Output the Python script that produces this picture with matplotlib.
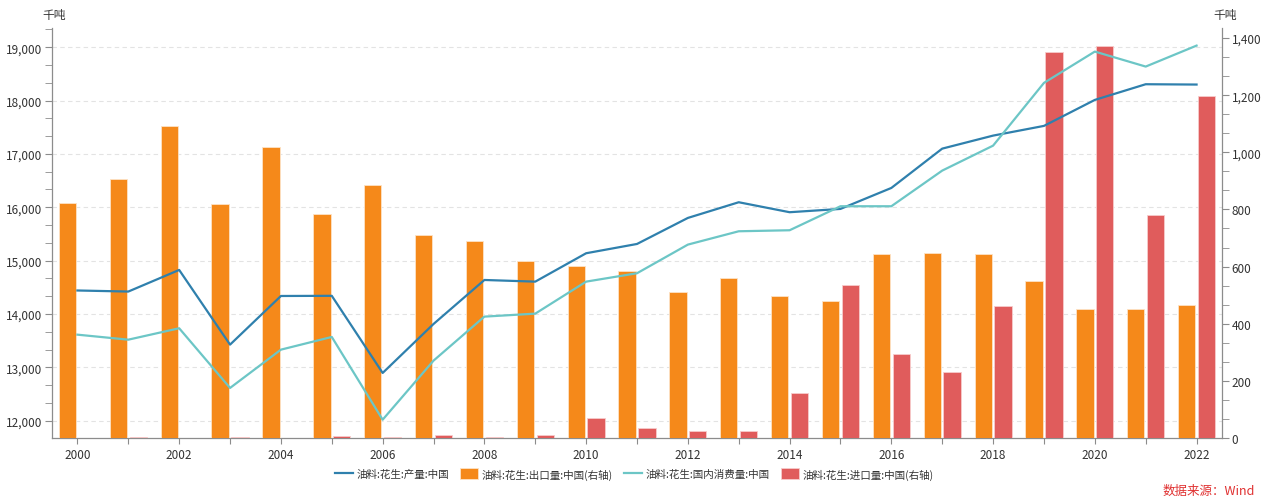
import matplotlib
matplotlib.use("Agg")
import matplotlib.pyplot as plt
from matplotlib.ticker import MultipleLocator, FuncFormatter, FixedLocator
import numpy as np

plt.rcParams['font.family'] = ['Noto Sans CJK SC', 'DejaVu Sans']

years = list(range(2000, 2023))
production = [14440, 14420, 14825, 13425, 14337, 14340, 12894, 13812, 14637, 14606,
              15138, 15312, 15800, 16094, 15907, 15969, 16362, 17099, 17343, 17525,
              18012, 18306, 18300]
consumption = [13612, 13518, 13732, 12613, 13331, 13569, 12018, 13125, 13950, 14006,
               14606, 14763, 15300, 15550, 15569, 16019, 16019, 16687, 17155, 18331,
               18918, 18637, 19030]
exports = [822, 906, 1093, 820, 1020, 783, 884, 711, 688, 619,
           601, 586, 512, 561, 498, 481, 643, 648, 643, 551,
           453, 452, 467]
imports = [1, 3, 1, 2, 1, 6, 5, 12, 3, 12,
           69, 35, 25, 25, 159, 537, 293, 231, 463, 1351,
           1371, 782, 1198]

names = ['油料:花生:产量:中国', '油料:花生:出口量:中国(右轴)',
         '油料:花生:国内消费量:中国', '油料:花生:进口量:中国(右轴)']
c_prod = '#2f80ad'
c_cons = '#6cc6c6'
c_exp = '#f5891a'
c_imp = '#e05c5c'
tick_col = '#333333'
spine_col = '#8c8c8c'

fig = plt.figure(figsize=(12.68, 5.02), dpi=100)
rect = [52/1268, 1-439/502, (1222-52)/1268, (439-29)/502]
ax = fig.add_axes(rect)
axr = ax.twinx()
axl = ax.twinx()

x = np.arange(len(years))
bw = 0.34
axr.bar(x - 0.195, exports, width=bw, color=c_exp, edgecolor='#fde3c6', linewidth=0.6, label=names[1])
axr.bar(x + 0.195, imports, width=bw, color=c_imp, edgecolor='#f7cccc', linewidth=0.6, label=names[3])
axl.plot(x, production, color=c_prod, lw=1.6, label=names[0])
axl.plot(x, consumption, color=c_cons, lw=1.6, label=names[2])

ylim_l = (11675, 19360)
ax.set_ylim(*ylim_l)
axl.set_ylim(*ylim_l)
axr.set_ylim(0, 1435)
ax.set_xlim(-0.5, len(years) - 0.5)

# left axis
ax.yaxis.set_major_locator(MultipleLocator(1000))
ax.yaxis.set_minor_locator(MultipleLocator(1000/3))
ax.yaxis.set_major_formatter(FuncFormatter(lambda v, p: f'{int(v):,}'))
ax.grid(axis='y', which='major', color='#e3e3e3', linestyle=(0, (4, 3)), linewidth=0.8)
ax.set_axisbelow(True)
ax.tick_params(axis='y', which='major', length=5, color=spine_col, labelsize=8.5, labelcolor=tick_col, pad=2)
ax.tick_params(axis='y', which='minor', length=5, color=spine_col)

# right axis
axr.yaxis.set_major_locator(MultipleLocator(200))
axr.yaxis.set_minor_locator(MultipleLocator(200/3))
axr.yaxis.set_major_formatter(FuncFormatter(lambda v, p: f'{int(v):,}'))
axr.tick_params(axis='y', which='major', length=5, color=spine_col, labelsize=8.5, labelcolor=tick_col, pad=2)
axr.tick_params(axis='y', which='minor', length=5, color=spine_col)

# x axis
ax.xaxis.set_major_locator(FixedLocator(x))
ax.set_xticklabels([str(y) if y % 2 == 0 else '' for y in years])
ax.tick_params(axis='x', length=4, color=spine_col, labelsize=8.5, labelcolor=tick_col, pad=3)

# hidden axes for lines
axl.set_yticks([])
axl.axis('off')

for a in (ax, axr):
    a.spines['top'].set_visible(False)
    for s in ('left', 'right', 'bottom'):
        a.spines[s].set_color(spine_col)
        a.spines[s].set_linewidth(0.9)
ax.spines['right'].set_visible(False)
axr.spines['left'].set_visible(False)
axr.spines['bottom'].set_visible(False)
axr.set_zorder(ax.get_zorder() + 1)
axl.set_zorder(axr.get_zorder() + 1)
axr.patch.set_visible(False)
axl.patch.set_visible(False)

fig.text(42/1268, 1-15/502, '千吨', fontsize=8.5, color=tick_col, va='center', ha='left')
fig.text(1213/1268, 1-15/502, '千吨', fontsize=8.5, color=tick_col, va='center', ha='left')

h1, l1 = axl.get_legend_handles_labels()
h2, l2 = axr.get_legend_handles_labels()
handles = [h1[0], h2[0], h1[1], h2[1]]
labels = [l1[0], l2[0], l1[1], l2[1]]
fig.legend(handles, labels, loc='center', bbox_to_anchor=(0.5, 1-475/502), ncol=4,
           frameon=False, fontsize=7.6, handlelength=1.7, handleheight=1.2,
           columnspacing=1.05, handletextpad=0.35, labelcolor=tick_col)

fig.text(1255/1268, 1-491/502, '数据来源：Wind', fontsize=9, color='#e03030', ha='right', va='center')

fig.savefig('out.png', dpi=100)
